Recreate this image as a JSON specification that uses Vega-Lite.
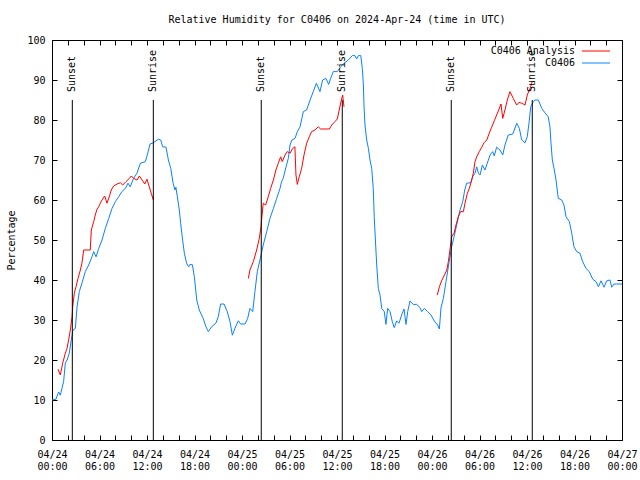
{
  "$schema": "https://vega.github.io/schema/vega-lite/v6.json",
  "width": 570,
  "height": 400,
  "autosize": "none",
  "padding": {"left": 52, "top": 40, "right": 18, "bottom": 40},
  "background": "white",
  "config": {
    "font": "DejaVu Sans Mono",
    "view": {"stroke": "black", "strokeWidth": 1},
    "axis": {"labelFont": "DejaVu Sans Mono", "labelFontSize": 10, "labelColor": "black", "titleFont": "DejaVu Sans Mono", "titleFontSize": 10, "titleFontWeight": "normal", "titleColor": "black", "tickColor": "black", "grid": false, "domain": false},
    "legend": {"labelFont": "DejaVu Sans Mono", "labelFontSize": 10, "labelColor": "black"}
  },
  "title": {"text": "Relative Humidity for C0406 on 2024-Apr-24 (time in UTC)", "font": "DejaVu Sans Mono", "fontSize": 10, "fontWeight": "normal", "color": "black", "anchor": "middle", "offset": 10},
  "datasets": {
    "obs": [
      {"t":"2024-04-24T00:00Z","v":10},{"t":"2024-04-24T00:30Z","v":10.2},{"t":"2024-04-24T00:50Z","v":12},{"t":"2024-04-24T01:03Z","v":11.2},
      {"t":"2024-04-24T01:28Z","v":14.6},{"t":"2024-04-24T01:41Z","v":19.2},{"t":"2024-04-24T01:54Z","v":20},{"t":"2024-04-24T02:11Z","v":21.7},
      {"t":"2024-04-24T02:26Z","v":25},{"t":"2024-04-24T02:39Z","v":27.5},{"t":"2024-04-24T02:57Z","v":27.9},{"t":"2024-04-24T03:10Z","v":33.3},
      {"t":"2024-04-24T03:27Z","v":37.1},{"t":"2024-04-24T03:47Z","v":39.2},{"t":"2024-04-24T04:12Z","v":42.1},{"t":"2024-04-24T04:38Z","v":43.75},
      {"t":"2024-04-24T05:03Z","v":45.8},{"t":"2024-04-24T05:16Z","v":47.1},{"t":"2024-04-24T05:34Z","v":45.8},{"t":"2024-04-24T05:54Z","v":47.9},
      {"t":"2024-04-24T06:19Z","v":50},{"t":"2024-04-24T06:44Z","v":52.9},{"t":"2024-04-24T07:10Z","v":55.4},{"t":"2024-04-24T07:35Z","v":57.9},
      {"t":"2024-04-24T08:00Z","v":59.6},{"t":"2024-04-24T08:25Z","v":60.8},{"t":"2024-04-24T08:50Z","v":62.1},{"t":"2024-04-24T09:16Z","v":62.9},
      {"t":"2024-04-24T09:36Z","v":64.2},{"t":"2024-04-24T09:53Z","v":63.3},{"t":"2024-04-24T10:18Z","v":65.4},{"t":"2024-04-24T10:44Z","v":66.7},
      {"t":"2024-04-24T11:10Z","v":69.2},{"t":"2024-04-24T11:47Z","v":69.6},{"t":"2024-04-24T12:00Z","v":71},{"t":"2024-04-24T12:23Z","v":74},
      {"t":"2024-04-24T12:48Z","v":74.3},{"t":"2024-04-24T13:26Z","v":75.2},{"t":"2024-04-24T13:44Z","v":75},{"t":"2024-04-24T13:59Z","v":73.3},
      {"t":"2024-04-24T14:24Z","v":73.2},{"t":"2024-04-24T14:42Z","v":70},{"t":"2024-04-24T15:00Z","v":67.9},{"t":"2024-04-24T15:18Z","v":64.2},
      {"t":"2024-04-24T15:32Z","v":62.5},{"t":"2024-04-24T15:39Z","v":63.2},{"t":"2024-04-24T15:50Z","v":60.8},{"t":"2024-04-24T16:05Z","v":57.5},
      {"t":"2024-04-24T16:15Z","v":54.2},{"t":"2024-04-24T16:30Z","v":50},{"t":"2024-04-24T16:43Z","v":46.7},{"t":"2024-04-24T17:00Z","v":44.2},
      {"t":"2024-04-24T17:16Z","v":43.3},{"t":"2024-04-24T17:26Z","v":43.9},{"t":"2024-04-24T17:44Z","v":43.8},{"t":"2024-04-24T17:59Z","v":40.8},
      {"t":"2024-04-24T18:17Z","v":35},{"t":"2024-04-24T18:36Z","v":32.5},{"t":"2024-04-24T19:06Z","v":30.4},{"t":"2024-04-24T19:27Z","v":28.3},
      {"t":"2024-04-24T19:45Z","v":27.1},{"t":"2024-04-24T20:10Z","v":28.3},{"t":"2024-04-24T20:42Z","v":29.2},{"t":"2024-04-24T21:00Z","v":30.8},
      {"t":"2024-04-24T21:18Z","v":34},{"t":"2024-04-24T21:44Z","v":34},{"t":"2024-04-24T22:08Z","v":32.1},{"t":"2024-04-24T22:29Z","v":29.6},
      {"t":"2024-04-24T22:47Z","v":26.2},{"t":"2024-04-24T23:06Z","v":27.9},{"t":"2024-04-24T23:32Z","v":29.8},{"t":"2024-04-24T23:50Z","v":29},
      {"t":"2024-04-25T00:23Z","v":29},{"t":"2024-04-25T00:43Z","v":30.4},{"t":"2024-04-25T01:00Z","v":32.9},{"t":"2024-04-25T01:21Z","v":32.1},
      {"t":"2024-04-25T01:38Z","v":37.1},{"t":"2024-04-25T01:56Z","v":42.1},{"t":"2024-04-25T02:16Z","v":45},{"t":"2024-04-25T02:41Z","v":48.75},
      {"t":"2024-04-25T03:07Z","v":52.1},{"t":"2024-04-25T03:32Z","v":55.4},{"t":"2024-04-25T03:58Z","v":57.9},{"t":"2024-04-25T04:23Z","v":60.4},
      {"t":"2024-04-25T04:48Z","v":62.9},{"t":"2024-04-25T05:00Z","v":64.6},{"t":"2024-04-25T05:12Z","v":65.4},{"t":"2024-04-25T05:34Z","v":68.3},
      {"t":"2024-04-25T05:51Z","v":70.4},{"t":"2024-04-25T06:04Z","v":73.75},{"t":"2024-04-25T06:18Z","v":75},{"t":"2024-04-25T06:42Z","v":75.4},
      {"t":"2024-04-25T06:59Z","v":77.1},{"t":"2024-04-25T07:20Z","v":78.3},{"t":"2024-04-25T07:45Z","v":82.1},{"t":"2024-04-25T08:10Z","v":82.5},
      {"t":"2024-04-25T08:36Z","v":85},{"t":"2024-04-25T09:00Z","v":87.1},{"t":"2024-04-25T09:24Z","v":89.2},{"t":"2024-04-25T09:51Z","v":87.1},
      {"t":"2024-04-25T10:11Z","v":90},{"t":"2024-04-25T10:36Z","v":90.4},{"t":"2024-04-25T10:57Z","v":88.9},{"t":"2024-04-25T11:12Z","v":90.4},
      {"t":"2024-04-25T11:32Z","v":92.1},{"t":"2024-04-25T12:02Z","v":92.1},{"t":"2024-04-25T12:28Z","v":93.3},{"t":"2024-04-25T12:54Z","v":94.2},
      {"t":"2024-04-25T13:26Z","v":95},{"t":"2024-04-25T13:56Z","v":96.1},{"t":"2024-04-25T14:16Z","v":96.1},{"t":"2024-04-25T14:29Z","v":95.25},
      {"t":"2024-04-25T14:42Z","v":96.1},{"t":"2024-04-25T15:00Z","v":96.1},{"t":"2024-04-25T15:12Z","v":92.9},{"t":"2024-04-25T15:20Z","v":88.75},
      {"t":"2024-04-25T15:25Z","v":83.3},{"t":"2024-04-25T15:32Z","v":78.75},{"t":"2024-04-25T15:45Z","v":75},{"t":"2024-04-25T15:58Z","v":72.9},
      {"t":"2024-04-25T16:10Z","v":70},{"t":"2024-04-25T16:23Z","v":67.9},{"t":"2024-04-25T16:35Z","v":62.9},{"t":"2024-04-25T16:42Z","v":55.8},
      {"t":"2024-04-25T16:53Z","v":48.75},{"t":"2024-04-25T17:01Z","v":43.75},{"t":"2024-04-25T17:13Z","v":37.9},{"t":"2024-04-25T17:26Z","v":36.25},
      {"t":"2024-04-25T17:39Z","v":32.9},{"t":"2024-04-25T17:58Z","v":32.1},{"t":"2024-04-25T18:11Z","v":28.9},{"t":"2024-04-25T18:24Z","v":32.9},
      {"t":"2024-04-25T18:42Z","v":32.1},{"t":"2024-04-25T18:59Z","v":29.6},{"t":"2024-04-25T19:14Z","v":28.1},{"t":"2024-04-25T19:32Z","v":29.75},
      {"t":"2024-04-25T19:50Z","v":29.2},{"t":"2024-04-25T20:10Z","v":31.25},{"t":"2024-04-25T20:28Z","v":32.75},{"t":"2024-04-25T20:43Z","v":28.9},
      {"t":"2024-04-25T20:56Z","v":32.1},{"t":"2024-04-25T21:13Z","v":34.75},{"t":"2024-04-25T21:38Z","v":33.9},{"t":"2024-04-25T22:04Z","v":33.9},
      {"t":"2024-04-25T22:29Z","v":33.1},{"t":"2024-04-25T22:42Z","v":32.1},{"t":"2024-04-25T23:02Z","v":32.9},{"t":"2024-04-25T23:27Z","v":32.1},
      {"t":"2024-04-25T23:52Z","v":31.25},{"t":"2024-04-26T00:17Z","v":29.75},{"t":"2024-04-26T00:43Z","v":28.75},{"t":"2024-04-26T00:56Z","v":27.75},
      {"t":"2024-04-26T01:08Z","v":33},{"t":"2024-04-26T01:26Z","v":35.4},{"t":"2024-04-26T01:46Z","v":39.6},{"t":"2024-04-26T02:09Z","v":44.4},
      {"t":"2024-04-26T02:29Z","v":48.3},{"t":"2024-04-26T02:47Z","v":50.8},{"t":"2024-04-26T03:07Z","v":53.75},{"t":"2024-04-26T03:32Z","v":57.5},
      {"t":"2024-04-26T03:53Z","v":59.6},{"t":"2024-04-26T04:08Z","v":62.5},{"t":"2024-04-26T04:23Z","v":64.2},{"t":"2024-04-26T04:53Z","v":64.3},
      {"t":"2024-04-26T05:08Z","v":65.8},{"t":"2024-04-26T05:26Z","v":66.7},{"t":"2024-04-26T05:39Z","v":68.3},{"t":"2024-04-26T05:51Z","v":66.7},
      {"t":"2024-04-26T06:04Z","v":66.25},{"t":"2024-04-26T06:22Z","v":68.75},{"t":"2024-04-26T06:41Z","v":67.5},{"t":"2024-04-26T06:59Z","v":69.2},
      {"t":"2024-04-26T07:20Z","v":71.25},{"t":"2024-04-26T07:40Z","v":72.1},{"t":"2024-04-26T07:52Z","v":71},{"t":"2024-04-26T08:10Z","v":73.2},
      {"t":"2024-04-26T08:35Z","v":72.5},{"t":"2024-04-26T08:56Z","v":71.25},{"t":"2024-04-26T09:13Z","v":73.75},{"t":"2024-04-26T09:38Z","v":76.25},
      {"t":"2024-04-26T10:12Z","v":76.5},{"t":"2024-04-26T10:24Z","v":77.5},{"t":"2024-04-26T10:42Z","v":79.2},{"t":"2024-04-26T11:02Z","v":77.9},
      {"t":"2024-04-26T11:20Z","v":75},{"t":"2024-04-26T11:45Z","v":74.3},{"t":"2024-04-26T12:02Z","v":75.8},{"t":"2024-04-26T12:15Z","v":79.2},
      {"t":"2024-04-26T12:28Z","v":83.3},{"t":"2024-04-26T12:48Z","v":84.6},{"t":"2024-04-26T13:00Z","v":85},{"t":"2024-04-26T13:26Z","v":85},
      {"t":"2024-04-26T13:52Z","v":82.9},{"t":"2024-04-26T14:16Z","v":81.8},{"t":"2024-04-26T14:41Z","v":80.8},{"t":"2024-04-26T14:54Z","v":78.3},
      {"t":"2024-04-26T15:02Z","v":74.2},{"t":"2024-04-26T15:12Z","v":70},{"t":"2024-04-26T15:27Z","v":67.5},{"t":"2024-04-26T15:40Z","v":65},
      {"t":"2024-04-26T15:57Z","v":60.4},{"t":"2024-04-26T16:23Z","v":60},{"t":"2024-04-26T16:40Z","v":58.75},{"t":"2024-04-26T16:56Z","v":55.8},
      {"t":"2024-04-26T17:21Z","v":54.6},{"t":"2024-04-26T17:39Z","v":51.7},{"t":"2024-04-26T17:56Z","v":48.3},{"t":"2024-04-26T18:17Z","v":47.1},
      {"t":"2024-04-26T18:41Z","v":46.7},{"t":"2024-04-26T19:02Z","v":44.6},{"t":"2024-04-26T19:27Z","v":42.9},{"t":"2024-04-26T19:52Z","v":42.1},
      {"t":"2024-04-26T20:18Z","v":40.2},{"t":"2024-04-26T20:43Z","v":39.6},{"t":"2024-04-26T21:01Z","v":38.3},{"t":"2024-04-26T21:21Z","v":39.8},
      {"t":"2024-04-26T21:44Z","v":38.2},{"t":"2024-04-26T22:04Z","v":39.8},{"t":"2024-04-26T22:29Z","v":40},{"t":"2024-04-26T22:42Z","v":38.2},
      {"t":"2024-04-26T22:59Z","v":39},{"t":"2024-04-26T23:20Z","v":39},{"t":"2024-04-27T00:00Z","v":39}
    ],
    "ana": [
      {"g":1,"t":"2024-04-24T00:46Z","v":17.7},{"g":1,"t":"2024-04-24T01:03Z","v":16.25},{"g":1,"t":"2024-04-24T01:21Z","v":19.2},{"g":1,"t":"2024-04-24T01:41Z","v":21.7},
      {"g":1,"t":"2024-04-24T01:54Z","v":22.9},{"g":1,"t":"2024-04-24T02:06Z","v":25},{"g":1,"t":"2024-04-24T02:19Z","v":27.5},{"g":1,"t":"2024-04-24T02:32Z","v":30.8},
      {"g":1,"t":"2024-04-24T02:37Z","v":33.3},{"g":1,"t":"2024-04-24T02:49Z","v":36.7},{"g":1,"t":"2024-04-24T03:02Z","v":38.3},{"g":1,"t":"2024-04-24T03:17Z","v":40.4},
      {"g":1,"t":"2024-04-24T03:35Z","v":42.5},{"g":1,"t":"2024-04-24T03:47Z","v":44.2},{"g":1,"t":"2024-04-24T04:00Z","v":47.5},{"g":1,"t":"2024-04-24T04:50Z","v":47.5},
      {"g":1,"t":"2024-04-24T04:58Z","v":52.5},{"g":1,"t":"2024-04-24T05:16Z","v":54.6},{"g":1,"t":"2024-04-24T05:28Z","v":56.25},{"g":1,"t":"2024-04-24T05:41Z","v":57.7},
      {"g":1,"t":"2024-04-24T05:54Z","v":58.3},{"g":1,"t":"2024-04-24T06:06Z","v":59.2},{"g":1,"t":"2024-04-24T06:19Z","v":60},{"g":1,"t":"2024-04-24T06:39Z","v":61},
      {"g":1,"t":"2024-04-24T06:57Z","v":59.2},{"g":1,"t":"2024-04-24T07:14Z","v":60.8},{"g":1,"t":"2024-04-24T07:29Z","v":62.5},{"g":1,"t":"2024-04-24T07:47Z","v":63.5},
      {"g":1,"t":"2024-04-24T08:13Z","v":64},{"g":1,"t":"2024-04-24T08:38Z","v":64.3},{"g":1,"t":"2024-04-24T08:56Z","v":63.75},{"g":1,"t":"2024-04-24T09:21Z","v":64.6},
      {"g":1,"t":"2024-04-24T09:46Z","v":65.4},{"g":1,"t":"2024-04-24T10:01Z","v":66},{"g":1,"t":"2024-04-24T10:19Z","v":65.4},{"g":1,"t":"2024-04-24T10:44Z","v":65},
      {"g":1,"t":"2024-04-24T11:02Z","v":66},{"g":1,"t":"2024-04-24T11:27Z","v":64.8},{"g":1,"t":"2024-04-24T11:43Z","v":64},{"g":1,"t":"2024-04-24T12:00Z","v":65.2},
      {"g":1,"t":"2024-04-24T12:17Z","v":63.3},{"g":1,"t":"2024-04-24T12:32Z","v":61.7},{"g":1,"t":"2024-04-24T12:48Z","v":60},
      {"g":2,"t":"2024-04-25T00:48Z","v":40.4},{"g":2,"t":"2024-04-25T01:00Z","v":42.5},{"g":2,"t":"2024-04-25T01:26Z","v":44.6},{"g":2,"t":"2024-04-25T01:51Z","v":47.5},
      {"g":2,"t":"2024-04-25T02:11Z","v":50.4},{"g":2,"t":"2024-04-25T02:24Z","v":53.3},{"g":2,"t":"2024-04-25T02:32Z","v":56.25},{"g":2,"t":"2024-04-25T02:41Z","v":59.2},
      {"g":2,"t":"2024-04-25T02:59Z","v":58.75},{"g":2,"t":"2024-04-25T03:19Z","v":60.8},{"g":2,"t":"2024-04-25T03:37Z","v":62.9},{"g":2,"t":"2024-04-25T03:58Z","v":65},
      {"g":2,"t":"2024-04-25T04:17Z","v":67.5},{"g":2,"t":"2024-04-25T04:35Z","v":69.2},{"g":2,"t":"2024-04-25T04:53Z","v":70.8},{"g":2,"t":"2024-04-25T05:05Z","v":69.6},
      {"g":2,"t":"2024-04-25T05:26Z","v":71.25},{"g":2,"t":"2024-04-25T05:43Z","v":72.1},{"g":2,"t":"2024-04-25T06:04Z","v":71.7},{"g":2,"t":"2024-04-25T06:24Z","v":72.9},
      {"g":2,"t":"2024-04-25T06:41Z","v":73.3},{"g":2,"t":"2024-04-25T06:49Z","v":66.25},{"g":2,"t":"2024-04-25T06:59Z","v":63.9},{"g":2,"t":"2024-04-25T07:14Z","v":65.8},
      {"g":2,"t":"2024-04-25T07:32Z","v":67.9},{"g":2,"t":"2024-04-25T07:50Z","v":71.25},{"g":2,"t":"2024-04-25T08:10Z","v":74.2},{"g":2,"t":"2024-04-25T08:30Z","v":75.8},
      {"g":2,"t":"2024-04-25T08:48Z","v":77.1},{"g":2,"t":"2024-04-25T09:13Z","v":77.5},{"g":2,"t":"2024-04-25T09:38Z","v":78.3},{"g":2,"t":"2024-04-25T09:56Z","v":77.75},
      {"g":2,"t":"2024-04-25T10:29Z","v":77.75},{"g":2,"t":"2024-04-25T11:02Z","v":77.75},{"g":2,"t":"2024-04-25T11:20Z","v":78.75},{"g":2,"t":"2024-04-25T11:45Z","v":79.6},
      {"g":2,"t":"2024-04-25T12:02Z","v":80.25},{"g":2,"t":"2024-04-25T12:17Z","v":82.5},{"g":2,"t":"2024-04-25T12:30Z","v":84.6},{"g":2,"t":"2024-04-25T12:43Z","v":86.25},
      {"g":2,"t":"2024-04-25T12:53Z","v":83.3},
      {"g":3,"t":"2024-04-26T00:40Z","v":36.25},{"g":3,"t":"2024-04-26T00:56Z","v":38.3},{"g":3,"t":"2024-04-26T01:13Z","v":39.8},{"g":3,"t":"2024-04-26T01:31Z","v":41},
      {"g":3,"t":"2024-04-26T01:52Z","v":42.5},{"g":3,"t":"2024-04-26T02:04Z","v":44.6},{"g":3,"t":"2024-04-26T02:16Z","v":47.5},{"g":3,"t":"2024-04-26T02:29Z","v":50.8},
      {"g":3,"t":"2024-04-26T02:47Z","v":51.7},{"g":3,"t":"2024-04-26T03:02Z","v":53.75},{"g":3,"t":"2024-04-26T03:19Z","v":55.8},{"g":3,"t":"2024-04-26T03:37Z","v":57.1},
      {"g":3,"t":"2024-04-26T03:58Z","v":57.1},{"g":3,"t":"2024-04-26T04:10Z","v":59.2},{"g":3,"t":"2024-04-26T04:28Z","v":61.7},{"g":3,"t":"2024-04-26T04:43Z","v":62.9},
      {"g":3,"t":"2024-04-26T05:01Z","v":65},{"g":3,"t":"2024-04-26T05:13Z","v":66.7},{"g":3,"t":"2024-04-26T05:26Z","v":69.6},{"g":3,"t":"2024-04-26T05:39Z","v":70.8},
      {"g":3,"t":"2024-04-26T05:58Z","v":72.1},{"g":3,"t":"2024-04-26T06:17Z","v":73.2},{"g":3,"t":"2024-04-26T06:34Z","v":74.3},{"g":3,"t":"2024-04-26T06:55Z","v":75},
      {"g":3,"t":"2024-04-26T07:14Z","v":76.7},{"g":3,"t":"2024-04-26T07:32Z","v":78.2},{"g":3,"t":"2024-04-26T07:52Z","v":79.8},{"g":3,"t":"2024-04-26T08:10Z","v":81.25},
      {"g":3,"t":"2024-04-26T08:28Z","v":82.7},{"g":3,"t":"2024-04-26T08:43Z","v":84},{"g":3,"t":"2024-04-26T08:56Z","v":80.4},{"g":3,"t":"2024-04-26T09:13Z","v":82.5},
      {"g":3,"t":"2024-04-26T09:31Z","v":85},{"g":3,"t":"2024-04-26T09:51Z","v":87.1},{"g":3,"t":"2024-04-26T10:16Z","v":85.4},{"g":3,"t":"2024-04-26T10:42Z","v":83.75},
      {"g":3,"t":"2024-04-26T10:59Z","v":84.4},{"g":3,"t":"2024-04-26T11:20Z","v":84.2},{"g":3,"t":"2024-04-26T11:45Z","v":83.75},{"g":3,"t":"2024-04-26T12:02Z","v":86.25},
      {"g":3,"t":"2024-04-26T12:23Z","v":87.9},{"g":3,"t":"2024-04-26T12:40Z","v":89.6}
    ],
    "sun": [
      {"t":"2024-04-24T02:34Z","label":"Sunset"},{"t":"2024-04-24T12:48Z","label":"Sunrise"},
      {"t":"2024-04-25T02:26Z","label":"Sunset"},{"t":"2024-04-25T12:40Z","label":"Sunrise"},
      {"t":"2024-04-26T02:26Z","label":"Sunset"},{"t":"2024-04-26T12:40Z","label":"Sunrise"}
    ]
  },
  "resolve": {"axis": {"x": "independent", "y": "independent"}},
  "layer": [
    {
      "data": {"name": "obs"},
      "mark": {"type": "line", "strokeWidth": 1},
      "encoding": {
        "x": {"field": "t", "type": "temporal",
          "scale": {"type": "utc", "domain": [1713916800000, 1714176000000], "nice": false},
          "axis": {"orient": "bottom", "title": null,
            "values": [1713916800000,1713924000000,1713931200000,1713938400000,1713945600000,1713952800000,1713960000000,1713967200000,1713974400000,1713981600000,1713988800000,1713996000000,1714003200000,1714010400000,1714017600000,1714024800000,1714032000000,1714039200000,1714046400000,1714053600000,1714060800000,1714068000000,1714075200000,1714082400000,1714089600000,1714096800000,1714104000000,1714111200000,1714118400000,1714125600000,1714132800000,1714140000000,1714147200000,1714154400000,1714161600000,1714168800000,1714176000000],
            "labelExpr": "utchours(datum.value) % 6 == 0 ? [utcFormat(datum.value, '%m/%d'), utcFormat(datum.value, '%H:%M')] : ''",
            "labelOverlap": false, "labelFlush": false, "tickSize": -5, "labelPadding": 14, "labelLineHeight": 12, "labelBaseline": "top"}},
        "y": {"field": "v", "type": "quantitative", "scale": {"domain": [0, 100], "nice": false},
          "axis": {"orient": "left", "title": "Percentage", "values": [0,10,20,30,40,50,60,70,80,90,100], "tickSize": -5, "labelPadding": 12, "titlePadding": 10}},
        "color": {"datum": "C0406", "type": "nominal", "scale": {"domain": ["C0406 Analysis", "C0406"], "range": ["#ff0000", "#0a80ff"]},
          "legend": {"title": null, "orient": "none", "legendX": 537, "legendY": 4, "symbolType": "M-2.3,0H2.3", "symbolSize": 148, "symbolStrokeWidth": 1, "labelAlign": "right", "labelOffset": -28, "rowPadding": 0, "padding": 0}}
      }
    },
    {
      "data": {"name": "ana"},
      "mark": {"type": "line", "strokeWidth": 1},
      "encoding": {
        "x": {"field": "t", "type": "temporal",
          "axis": {"orient": "top", "title": null, "labels": false,
            "values": [1713916800000,1713924000000,1713931200000,1713938400000,1713945600000,1713952800000,1713960000000,1713967200000,1713974400000,1713981600000,1713988800000,1713996000000,1714003200000,1714010400000,1714017600000,1714024800000,1714032000000,1714039200000,1714046400000,1714053600000,1714060800000,1714068000000,1714075200000,1714082400000,1714089600000,1714096800000,1714104000000,1714111200000,1714118400000,1714125600000,1714132800000,1714140000000,1714147200000,1714154400000,1714161600000,1714168800000,1714176000000],
            "tickSize": -5}},
        "y": {"field": "v", "type": "quantitative",
          "axis": {"orient": "right", "title": null, "labels": false, "values": [0,10,20,30,40,50,60,70,80,90,100], "tickSize": -5}},
        "detail": {"field": "g", "type": "nominal"},
        "color": {"datum": "C0406 Analysis", "type": "nominal"}
      }
    },
    {
      "data": {"name": "sun"},
      "mark": {"type": "rule", "color": "black", "strokeWidth": 1},
      "encoding": {
        "x": {"field": "t", "type": "temporal", "axis": null},
        "y": {"datum": 0, "type": "quantitative", "axis": null},
        "y2": {"datum": 85}
      }
    },
    {
      "data": {"name": "sun"},
      "mark": {"type": "text", "angle": 270, "align": "left", "baseline": "middle", "font": "DejaVu Sans Mono", "fontSize": 10, "color": "black"},
      "encoding": {
        "x": {"field": "t", "type": "temporal", "axis": null},
        "y": {"datum": 87, "type": "quantitative", "axis": null},
        "text": {"field": "label"}
      }
    }
  ]
}
